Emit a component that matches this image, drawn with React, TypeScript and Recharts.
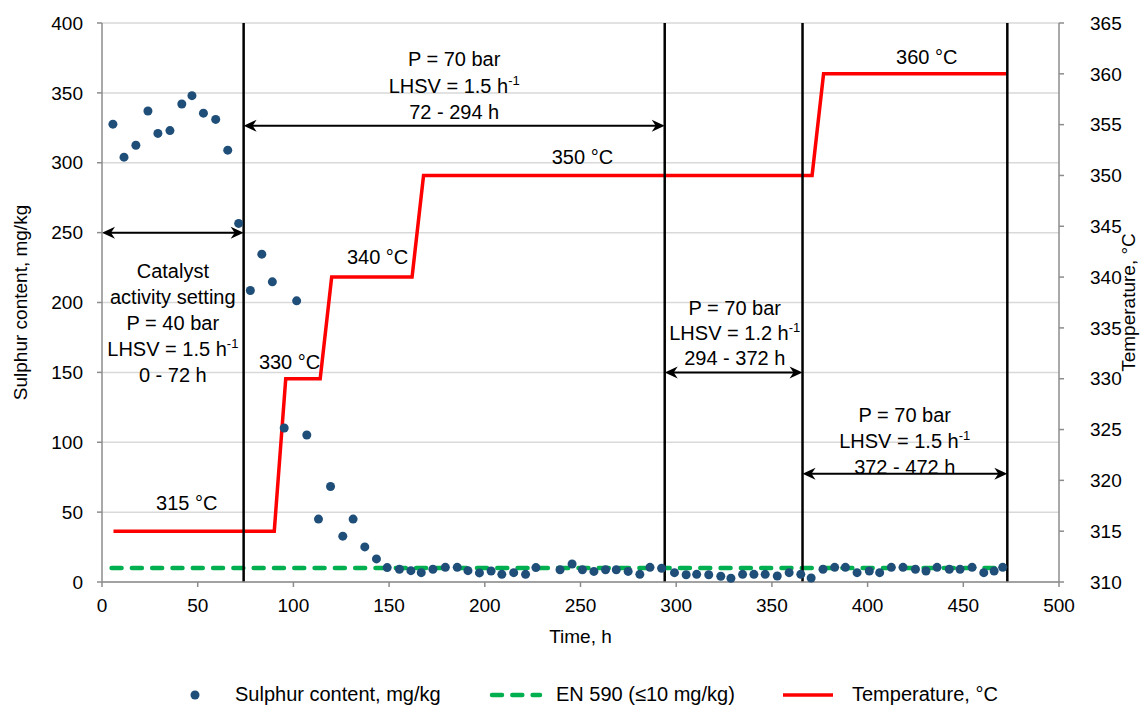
import React from 'react';
import {
  ComposedChart,
  Scatter,
  Line,
  XAxis,
  YAxis,
  CartesianGrid,
  ReferenceLine,
  ReferenceDot,
  Legend,
} from 'recharts';

const FONT = '"Liberation Sans", Arial, sans-serif';
const DOT = '#1f4e79';
const GREEN = '#00b050';
const RED = '#ff0000';
const AXIS = '#8c8c8c';

// axis ticks
const timeTicks = [0, 50, 100, 150, 200, 250, 300, 350, 400, 450, 500];
const sulphurTicks = [0, 50, 100, 150, 200, 250, 300, 350, 400];
const tempTicks = [310, 315, 320, 325, 330, 335, 340, 345, 350, 355, 360, 365];

// sulphur content, mg/kg
const sulphurTime = [
  5.7, 11.5, 17.7, 24, 29.2, 35.5, 41.7, 47, 53, 59.4, 65.7, 71.4, 77.5, 83.5, 89, 95.2,
  101.7, 107, 113.1, 119.4, 125.8, 131.2, 137.3, 143.4, 149, 155.4, 161.4, 166.8, 172.9,
  179.4, 185.6, 191.2, 197.2, 203.3, 208.9, 215.1, 221.3, 226.7, 239.3, 245.6, 251, 257,
  263.1, 268.7, 274.9, 281, 286.3, 292.4, 299.1, 305.2, 310.7, 317, 323.3, 328.6, 334.7,
  340.6, 346.5, 352.8, 359, 365.1, 370.5, 376.7, 382.8, 388.4, 394.5, 400.9, 406.3, 412.4,
  418.5, 425, 430.5, 436.3, 442.7, 448.3, 454.6, 460.7, 466.1, 470.6,
];
const sulphurValue = [
  327.6, 304, 312.5, 337, 321, 323, 342, 348, 335.5, 331, 309, 256.6, 208.6, 234.6, 214.8,
  110.2, 201.2, 105.2, 45, 68.3, 32.8, 45, 25.1, 16.5, 10.3, 9.1, 8.1, 6.7, 9.1, 10.5, 10.5,
  8.1, 6.5, 7.9, 5.5, 6.7, 5.5, 10.3, 8.8, 12.9, 8.8, 7.6, 8.8, 8.8, 7.6, 5.5, 10.5, 9.8,
  6.7, 5.2, 5.5, 5.2, 4.1, 2.7, 5.5, 5.5, 5.5, 4.3, 6.7, 5.5, 2.9, 9.1, 10.5, 10.5, 6.7,
  7.9, 6.7, 10.5, 10.5, 9.1, 7.9, 10.5, 9.1, 9.1, 10.5, 6.7, 7.9, 10.5,
];

// temperature profile, °C
const tempTime = [6, 90, 96, 114, 120, 162, 168, 371, 377, 472.5];
const tempValue = [315, 315, 330, 330, 340, 340, 350, 350, 360, 360];

// EN 590 limit
const limitTime = [5, 472];
const limitValue = [10, 10];

// process phases
const phaseBounds = [74, 294, 366, 473];
const spanFrom = [0, 74, 294, 366];
const spanTo = [74, 294, 366, 473];
const spanLevel = [250, 326.5, 150, 77.5];

const sulphurData = sulphurTime.map((t, i) => ({ time: t, sulphur: sulphurValue[i] }));
const tempData = tempTime.map((t, i) => ({ time: t, temp: tempValue[i] }));
const limitData = limitTime.map((t, i) => ({ time: t, limit: limitValue[i] }));

type TextLine = { text: string; sup?: string };
const notes: { x: number; y: number; gap: number; lines: TextLine[] }[] = [
  {
    x: 184, y: 374, gap: 26.5,
    lines: [{ text: 'P = 70 bar' }, { text: 'LHSV = 1.5 h', sup: '-1' }, { text: '72 - 294 h' }],
  },
  {
    x: 37, y: 222.8, gap: 26,
    lines: [
      { text: 'Catalyst' },
      { text: 'activity setting' },
      { text: 'P = 40 bar' },
      { text: 'LHSV = 1.5 h', sup: '-1' },
      { text: '0 - 72 h' },
    ],
  },
  {
    x: 330.6, y: 196.3, gap: 25,
    lines: [{ text: 'P = 70 bar' }, { text: 'LHSV = 1.2 h', sup: '-1' }, { text: '294 - 372 h' }],
  },
  {
    x: 419.4, y: 119.7, gap: 26,
    lines: [{ text: 'P = 70 bar' }, { text: 'LHSV = 1.5 h', sup: '-1' }, { text: '372 - 472 h' }],
  },
  { x: 251, y: 304.3, gap: 0, lines: [{ text: '350 °C' }] },
  { x: 430.9, y: 375.9, gap: 0, lines: [{ text: '360 °C' }] },
  { x: 144, y: 232.8, gap: 0, lines: [{ text: '340 °C' }] },
  { x: 98, y: 157.6, gap: 0, lines: [{ text: '330 °C' }] },
  { x: 44.3, y: 56.7, gap: 0, lines: [{ text: '315 °C' }] },
];

const DoubleArrow = (p: any) => {
  const { x1, y1, x2, y2 } = p;
  const l = 13;
  const w = 6;
  const n = 9;
  return (
    <g>
      <line x1={x1 + 4} y1={y1} x2={x2 - 4} y2={y2} stroke="#000" strokeWidth={2} />
      <polygon points={`${x1},${y1} ${x1 + l},${y1 - w} ${x1 + n},${y1} ${x1 + l},${y1 + w}`} fill="#000" />
      <polygon points={`${x2},${y2} ${x2 - l},${y2 - w} ${x2 - n},${y2} ${x2 - l},${y2 + w}`} fill="#000" />
    </g>
  );
};

const NoteShape = (lines: TextLine[], gap: number) => (p: any) => (
  <g>
    {lines.map((ln, i) => (
      <text
        key={i}
        x={p.cx}
        y={p.cy + i * gap + 7}
        textAnchor="middle"
        fontFamily={FONT}
        fontSize={20}
        fill="#000"
      >
        {ln.text}
        {ln.sup && (
          <tspan dy={-8} fontSize={13}>
            {ln.sup}
          </tspan>
        )}
      </text>
    ))}
  </g>
);

const Dot = (p: any) => <circle cx={p.cx} cy={p.cy} r={4.5} fill={DOT} />;

const LegendContent = () => (
  <svg width={1142} height={36} style={{ display: 'block' }}>
    <circle cx={195} cy={25} r={4.5} fill={DOT} />
    <text x={235} y={31} fontFamily={FONT} fontSize={20} fill="#000">
      Sulphur content, mg/kg
    </text>
    <line x1={492} x2={540} y1={25} y2={25} stroke={GREEN} strokeWidth={4.5} strokeDasharray="10 10.3" strokeLinecap="round" />
    <text x={556} y={31} fontFamily={FONT} fontSize={20} fill="#000">
      EN 590 (≤10 mg/kg)
    </text>
    <line x1={783} x2={833} y1={25} y2={25} stroke={RED} strokeWidth={3.5} />
    <text x={852} y={31} fontFamily={FONT} fontSize={20} fill="#000">
      Temperature, °C
    </text>
  </svg>
);

const leftTitle = (p: any) => {
  const vb = p.viewBox;
  const cx = vb.x + 20;
  const cy = vb.y + vb.height / 2;
  return (
    <text x={cx} y={cy} transform={`rotate(-90 ${cx} ${cy})`} textAnchor="middle" dominantBaseline="central" fontFamily={FONT} fontSize={19} fill="#000">
      Sulphur content, mg/kg
    </text>
  );
};

const rightTitle = (p: any) => {
  const vb = p.viewBox;
  const cx = vb.x + vb.width - 14;
  const cy = vb.y + vb.height / 2;
  return (
    <text x={cx} y={cy} transform={`rotate(-90 ${cx} ${cy})`} textAnchor="middle" dominantBaseline="central" fontFamily={FONT} fontSize={19} fill="#000">
      Temperature, °C
    </text>
  );
};

const bottomTitle = (p: any) => {
  const vb = p.viewBox;
  return (
    <text x={vb.x + vb.width / 2} y={vb.y + 61} textAnchor="middle" fontFamily={FONT} fontSize={19} fill="#000">
      Time, h
    </text>
  );
};

const tickStyle = { fontFamily: FONT, fontSize: 19, fill: '#000' };

export default function App() {
  return (
    <div style={{ position: 'absolute', left: 0, top: 0, width: 1142, height: 706, background: '#fff' }}>
      <ComposedChart width={1142} height={706} margin={{ top: 23, right: 0, bottom: 0, left: 0 }}>
        <CartesianGrid yAxisId="left" vertical={false} stroke="#d9d9d9" strokeWidth={1.5} />
        <XAxis
          type="number"
          dataKey="time"
          domain={[0, 500]}
          ticks={timeTicks}
          height={88}
          stroke={AXIS}
          strokeWidth={1.5}
          tickSize={5}
          tickMargin={12}
          tick={tickStyle}
          label={bottomTitle}
        />
        <YAxis
          yAxisId="left"
          type="number"
          domain={[0, 400]}
          ticks={sulphurTicks}
          width={102}
          stroke={AXIS}
          strokeWidth={1.5}
          tickSize={5}
          tickMargin={14}
          tick={tickStyle}
          label={leftTitle}
        />
        <YAxis
          yAxisId="right"
          orientation="right"
          type="number"
          domain={[310, 365]}
          ticks={tempTicks}
          width={83}
          stroke={AXIS}
          strokeWidth={1.5}
          tickSize={5}
          tickMargin={26}
          tick={tickStyle}
          label={rightTitle}
        />
        <Legend verticalAlign="bottom" height={36} content={LegendContent} wrapperStyle={{ left: 0, bottom: 0, width: 1142 }} />

        <Line
          yAxisId="left"
          data={limitData}
          dataKey="limit"
          type="linear"
          stroke={GREEN}
          strokeWidth={4.5}
          strokeDasharray="10 10.3"
          strokeLinecap="round"
          dot={false}
          activeDot={false}
          isAnimationActive={false}
        />
        <Scatter
          yAxisId="left"
          data={sulphurData}
          dataKey="sulphur"
          shape={Dot}
          isAnimationActive={false}
        />
        <Line
          yAxisId="right"
          data={tempData}
          dataKey="temp"
          type="linear"
          stroke={RED}
          strokeWidth={3.5}
          dot={false}
          activeDot={false}
          isAnimationActive={false}
        />

        {phaseBounds.map((x) => (
          <ReferenceLine key={`b${x}`} yAxisId="left" x={x} stroke="#000" strokeWidth={2.5} />
        ))}
        {spanFrom.map((x, i) => (
          <ReferenceLine
            key={`s${i}`}
            yAxisId="left"
            segment={[
              { x, y: spanLevel[i] },
              { x: spanTo[i], y: spanLevel[i] },
            ]}
            shape={DoubleArrow}
          />
        ))}
        {notes.map((n, i) => (
          <ReferenceDot key={`n${i}`} yAxisId="left" x={n.x} y={n.y} r={0} shape={NoteShape(n.lines, n.gap)} />
        ))}
      </ComposedChart>
    </div>
  );
}
